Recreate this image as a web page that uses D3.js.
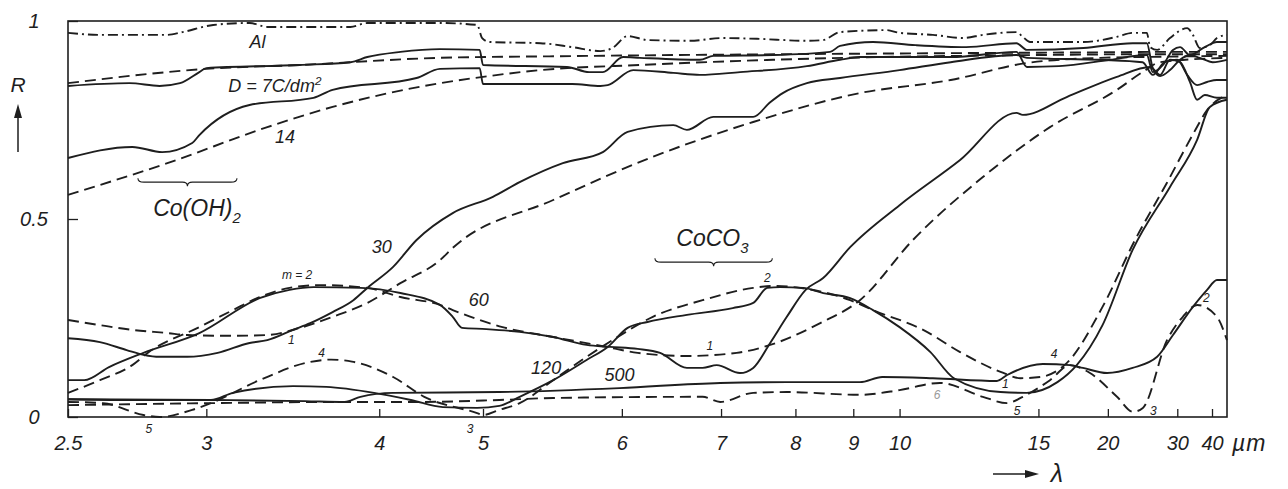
<!DOCTYPE html>
<html>
<head>
<meta charset="utf-8">
<script src="https://cdn.jsdelivr.net/npm/d3@7"></script>
<style>
body { margin: 0; background: #fff; }
svg text { font-family: "Liberation Sans", Arial, sans-serif; font-style: italic; fill: #1e1e1e; }
</style>
</head>
<body>
<svg id="vis" width="1288" height="489"></svg>
<script>
// axis ticks: wavelength in um, reflectance R
var xTicks = [2.5, 3, 4, 5, 6, 7, 8, 9, 10, 15, 20, 30, 40];
var xTickLabels = ['2.5', '3', '4', '5', '6', '7', '8', '9', '10', '15', '20', '30', '40'];
var yTicks = [0, 0.5, 1];
var yTickLabels = ['0', '0.5', '1'];

// [lambda (um), R]
var al = [[2.5,.97],[2.6,.965],[2.84,.965],[2.9,.972],[3.03,.99],[3.2,.995],[3.29,.985],[3.79,.985],[3.91,.995],[4.53,.995],[4.93,.99],[4.99,.957],[5.04,.947],[5.37,.944],[5.6,.934],[5.82,.924],[5.92,.932],[6.05,.962],[6.23,.952],[6.65,.95],[7.02,.957],[7.45,.955],[8.18,.95],[8.45,.952],[8.75,.972],[9.7,.977],[10.0,.97],[10.87,.965],[11.8,.957],[12.5,.965],[13.9,.972],[14.2,.96],[14.56,.947],[17.9,.947],[20.9,.96],[22.7,.97],[24.6,.97],[25.1,.934],[26.2,.927],[28.5,.957],[32.3,.982],[33.8,.965],[35.8,.932],[39.2,.939],[42,.957],[46.7,.965]];

var d7 = [[2.5,.836],[2.7,.843],[2.81,.836],[2.89,.843],[2.97,.871],[3.0,.881],[3.47,.889],[3.79,.896],[3.91,.909],[4.17,.922],[4.53,.929],[4.96,.927],[5.0,.889],[5.56,.884],[5.73,.871],[5.84,.871],[6.01,.909],[6.16,.907],[6.76,.902],[6.91,.912],[7.67,.914],[8.57,.922],[8.75,.937],[9.4,.947],[10.4,.939],[11.9,.934],[13.9,.944],[14.4,.927],[17.9,.932],[22.7,.944],[24.6,.944],[25.5,.881],[26.7,.861],[28.5,.876],[30.6,.902],[33,.914],[35.8,.907],[40.3,.896],[46.7,.902]];
var d7Calc = [[2.5,.843],[3.0,.879],[3.47,.889],[4.53,.907],[5.5,.911],[7,.915],[10,.918],[15,.92],[20,.921],[25,.922],[46.7,.922]];

var d14 = [[2.5,.654],[2.71,.682],[2.82,.669],[2.94,.692],[2.97,.712],[3.2,.788],[3.55,.806],[3.67,.826],[4.31,.856],[4.53,.879],[4.96,.881],[5.0,.841],[5.6,.841],[5.82,.836],[5.88,.838],[6.1,.876],[6.48,.869],[6.76,.864],[7.23,.871],[8.18,.886],[8.75,.902],[9.13,.909],[11.4,.909],[13.9,.922],[14.4,.884],[16.2,.886],[20.2,.902],[24.6,.914],[25.5,.871],[27.2,.889],[29.1,.927],[30.6,.934],[33,.914],[37.4,.934],[42,.947],[46.7,.947]];
var d14Calc = [[2.5,.561],[2.84,.641],[3.29,.732],[3.67,.783],[4.53,.843],[5.0,.859],[5.37,.876],[6.16,.889],[7.67,.902],[10,.91],[13.2,.913],[24.6,.916],[46.7,.916]];

var d30 = [[2.5,.199],[2.6,.189],[2.69,.169],[2.75,.157],[2.81,.152],[2.92,.152],[3.05,.162],[3.2,.187],[3.29,.194],[3.43,.22],[3.53,.237],[3.67,.265],[3.81,.295],[3.91,.326],[4.11,.379],[4.31,.447],[4.66,.515],[5.06,.556],[5.23,.593],[5.53,.641],[5.84,.669],[6.05,.72],[6.48,.737],[6.62,.725],[6.91,.758],[7.4,.758],[7.63,.795],[7.81,.818],[8.18,.843],[8.75,.856],[10.0,.876],[11.4,.896],[13.9,.914],[14.4,.907],[19.3,.902],[24.0,.896],[25.5,.864],[27.5,.896],[30.0,.902],[32.3,.864],[35.0,.838],[38.2,.846],[42,.851],[46.7,.851]];
var d30Calc = [[2.5,.245],[2.6,.232],[2.71,.22],[2.84,.212],[2.92,.207],[3.12,.205],[3.29,.207],[3.47,.225],[3.67,.253],[3.91,.288],[4.17,.338],[4.53,.396],[4.66,.427],[5.46,.548],[6.28,.657],[7.4,.745],[9.13,.818],[11.4,.851],[14.4,.894],[19.3,.907],[24,.909],[46.7,.912]];

var d60 = [[2.5,.093],[2.55,.093],[2.63,.126],[2.75,.162],[2.97,.212],[3.25,.30],[3.41,.321],[3.55,.328],[3.86,.326],[4.17,.313],[4.53,.283],[4.66,.253],[4.76,.225],[5.02,.222],[5.23,.215],[5.46,.202],[5.71,.182],[5.9,.177],[6.14,.172],[6.35,.162],[6.62,.124],[6.79,.124],[6.95,.131],[7.23,.111],[7.4,.124],[7.63,.187],[7.87,.253],[8.16,.321],[8.45,.351],[8.94,.429],[10.0,.535],[11.7,.649],[13.9,.768],[14.2,.763],[16.7,.808],[20.9,.859],[25.1,.884],[26.7,.864],[28.5,.902],[30.6,.896],[33,.846],[35,.801],[37.4,.813],[42,.806],[46.7,.806]];
var d60Calc = [[2.5,.061],[2.6,.093],[2.71,.131],[2.77,.164],[2.97,.227],[3.12,.27],[3.25,.303],[3.41,.326],[3.59,.333],[3.91,.326],[4.17,.303],[4.53,.283],[4.66,.27],[5.12,.227],[5.46,.202],[5.84,.179],[6.14,.162],[6.62,.154],[7.19,.162],[7.63,.182],[8.4,.237],[9.13,.295],[10.33,.447],[12.5,.606],[15.65,.732],[20.9,.826],[24,.871],[26.7,.896],[46.7,.907]];

var d120 = [[2.5,.045],[2.7,.043],[3.02,.043],[3.12,.061],[3.43,.078],[3.63,.076],[3.96,.061],[4.26,.043],[4.56,.025],[4.93,.023],[5.1,.028],[5.23,.051],[5.46,.093],[5.71,.144],[5.88,.177],[6.05,.225],[6.23,.24],[6.62,.258],[7.14,.275],[7.4,.288],[7.59,.326],[7.77,.328],[8.12,.326],[8.45,.313],[8.94,.30],[9.4,.27],[10,.227],[10.8,.164],[11.5,.098],[13.2,.063],[14.4,.061],[16.1,.088],[17.4,.131],[19.5,.232],[22.7,.422],[28.5,.581],[35,.70],[39.2,.783],[46.7,.801]];
var d120Calc = [[2.5,.038],[2.61,.035],[2.75,.005],[2.81,0],[2.94,.018],[3.02,.035],[3.25,.093],[3.53,.139],[3.66,.145],[3.8,.14],[4.11,.101],[4.38,.051],[4.93,.01],[5.0,.005],[5.1,.018],[5.23,.035],[5.46,.093],[5.71,.152],[5.92,.194],[6.28,.253],[6.79,.295],[7.4,.326],[7.7,.331],[8.07,.326],[8.94,.295],[9.4,.27],[10.6,.22],[11.7,.164],[13.2,.114],[14.1,.098],[15.1,.101],[16.7,.136],[19.5,.278],[23,.447],[27.9,.591],[34,.717],[38.2,.775],[46.7,.813]];

var d500 = [[2.5,.045],[3.02,.043],[3.5,.04],[3.75,.038],[3.86,.051],[4.11,.061],[5.1,.063],[5.98,.073],[6.99,.086],[7.87,.088],[9.13,.088],[9.6,.101],[10.87,.098],[13.05,.091],[13.48,.106],[15.24,.134],[16.92,.131],[17.86,.124],[19.92,.111],[22.7,.124],[26.2,.152],[29.1,.207],[33.8,.278],[38.2,.321],[42,.346],[46.7,.346]];
var d500Calc = [[2.5,.03],[3.02,.035],[3.75,.038],[4.34,.038],[5.1,.043],[5.46,.048],[6.79,.051],[6.99,.038],[7.4,.061],[7.87,.063],[9.13,.056],[10.0,.068],[11.07,.086],[12.5,.051],[13.48,.035],[14.2,.051],[15.65,.093],[16.92,.131],[18.42,.111],[20.92,.051],[22.73,.013],[24.04,.023],[27.93,.194],[31.25,.253],[35,.283],[42,.253],[46.7,.194]];

// text labels [lambda, R, text]  (_x = subscript, ^x = superscript)
var bigLabels = [[3.24,.932,'Al'],[3.33,.821,'D = 7C/dm^2'],[3.385,.692,'14'],[4.02,.414,'30'],[4.95,.28,'60'],[5.41,.109,'120'],[5.98,.091,'500']];
var compoundLabels = [[2.96,.508,'Co(OH)_2'],[6.9,.432,'CoCO_3']];
var orderLabels = [[3.453,.348,'m = 2'],[3.42,.184,'1'],[3.6,.152,'4'],[2.77,-.04,'5'],[4.85,-.04,'3'],[7.59,.341,'2'],[6.87,.169,'1'],[13.4,.073,'1'],[15.9,.149,'4'],[13.93,.005,'5'],[37.9,.29,'2'],[25.6,.005,'3']];
var fadedLabels = [[10.99,.045,'6']];
var braces = [[2.73,3.139,.593],[6.3,7.66,.391]];

var svg = d3.select('#vis');

// spectrometer scale: linear in wavenumber, with a change of scale at 2000 cm-1
var xNu = d3.scaleLinear().domain([4000, 2000, 214]).range([68, 483, 1227]);
var x = function (lam) { return xNu(1e4 / lam); };
var y = d3.scaleLinear().domain([0, 1]).range([417, 21]);
var ink = '#1e1e1e';

svg.append('rect')
    .attr('x', 68).attr('y', y(1))
    .attr('width', 1227 - 68).attr('height', y(0) - y(1))
    .attr('fill', 'none').attr('stroke', ink).attr('stroke-width', 1.6);

var xAxis = d3.axisBottom(xNu)
    .tickValues(xTicks.map(function (l) { return 1e4 / l; }))
    .tickFormat(function (d, i) { return xTickLabels[i]; })
    .tickSizeInner(-8).tickSizeOuter(0).tickPadding(19);
var gx = svg.append('g').attr('transform', 'translate(0,' + y(0) + ')').style('color', ink).call(xAxis);
gx.select('.domain').remove();
gx.selectAll('line').attr('stroke-width', 1.3);
gx.selectAll('text').style('font-size', '20px');

svg.append('text').attr('x', x(40) + 20).attr('y', y(0) + 34)
    .style('font-size', '23px').style('letter-spacing', '1px').text('\u00b5m');

var yAxis = d3.axisLeft(y)
    .tickValues(yTicks)
    .tickFormat(function (d, i) { return yTickLabels[i]; })
    .tickSizeInner(-10).tickSizeOuter(0).tickPadding(0);
var gy = svg.append('g').attr('transform', 'translate(68,0)').style('color', ink).call(yAxis);
gy.select('.domain').remove();
gy.selectAll('line').attr('stroke-width', 1.3);
gy.selectAll('text').attr('x', -34).attr('text-anchor', 'middle').style('font-size', '20px');

// R with upward arrow, lambda with right arrow
svg.append('text').attr('x', 18).attr('y', 92).attr('text-anchor', 'middle').style('font-size', '21px').text('R');
svg.append('line').attr('x1', 18).attr('x2', 18).attr('y1', 152).attr('y2', 114).attr('stroke', ink).attr('stroke-width', 1.5);
svg.append('path').attr('d', 'M18,104 L14,118 L22,118 Z').attr('fill', ink);
svg.append('line').attr('x1', 993).attr('x2', 1028).attr('y1', 474).attr('y2', 474).attr('stroke', ink).attr('stroke-width', 1.5);
svg.append('path').attr('d', 'M1039,474 L1025,470 L1025,478 Z').attr('fill', ink);
svg.append('text').attr('x', 1057).attr('y', 482).attr('text-anchor', 'middle').style('font-size', '25px').text('\u03bb');

// curves
var series = [
    {data: al, dash: '10,4,2,4'},
    {data: d7, dash: null}, {data: d7Calc, dash: '11,6'},
    {data: d14, dash: null}, {data: d14Calc, dash: '11,6'},
    {data: d30, dash: null}, {data: d30Calc, dash: '11,6'},
    {data: d60, dash: null}, {data: d60Calc, dash: '11,6'},
    {data: d120, dash: null}, {data: d120Calc, dash: '11,6'},
    {data: d500, dash: null}, {data: d500Calc, dash: '11,6'}
];
var line = d3.line()
    .x(function (d) { return x(d[0]); })
    .y(function (d) { return y(d[1]); })
    .curve(d3.curveMonotoneX);

svg.append('g').selectAll('path')
    .data(series)
    .enter().append('path')
    .attr('d', function (d) { return line(d.data); })
    .attr('fill', 'none')
    .attr('stroke', ink)
    .attr('stroke-width', 1.9)
    .attr('stroke-dasharray', function (d) { return d.dash; });

// labels, with simple sub/superscript handling
function addLabel(g, d, size, color) {
    var t = g.append('text')
        .attr('x', x(d[0])).attr('y', y(d[1]))
        .attr('text-anchor', 'middle')
        .style('font-size', size + 'px');
    if (color) t.style('fill', color);
    var m = d[2].match(/^(.*?)([_^])(.*)$/);
    if (!m) { t.text(d[2]); return; }
    t.append('tspan').text(m[1]);
    t.append('tspan')
        .attr('dy', m[2] === '_' ? size * 0.3 : -size * 0.4)
        .style('font-size', (size * 0.65) + 'px')
        .text(m[3]);
}
var lg = svg.append('g');
bigLabels.forEach(function (d) { addLabel(lg, d, 18); });
compoundLabels.forEach(function (d) { addLabel(lg, d, 23); });
orderLabels.forEach(function (d) { addLabel(lg, d, 12); });
fadedLabels.forEach(function (d) { addLabel(lg, d, 12, '#9a9a9a'); });

// curly braces under the band labels
svg.append('g').selectAll('path')
    .data(braces)
    .enter().append('path')
    .attr('d', function (d) {
        var x1 = x(d[0]), x2 = x(d[1]), xm = (x1 + x2) / 2, y0 = y(d[2]);
        return 'M' + x1 + ',' + (y0 - 4) + ' Q' + x1 + ',' + y0 + ' ' + (x1 + 6) + ',' + y0 +
            ' L' + (xm - 5) + ',' + y0 + ' Q' + xm + ',' + y0 + ' ' + xm + ',' + (y0 + 4) +
            ' Q' + xm + ',' + y0 + ' ' + (xm + 5) + ',' + y0 +
            ' L' + (x2 - 6) + ',' + y0 + ' Q' + x2 + ',' + y0 + ' ' + x2 + ',' + (y0 - 4);
    })
    .attr('fill', 'none').attr('stroke', ink).attr('stroke-width', 1.1);
</script>
</body>
</html>
